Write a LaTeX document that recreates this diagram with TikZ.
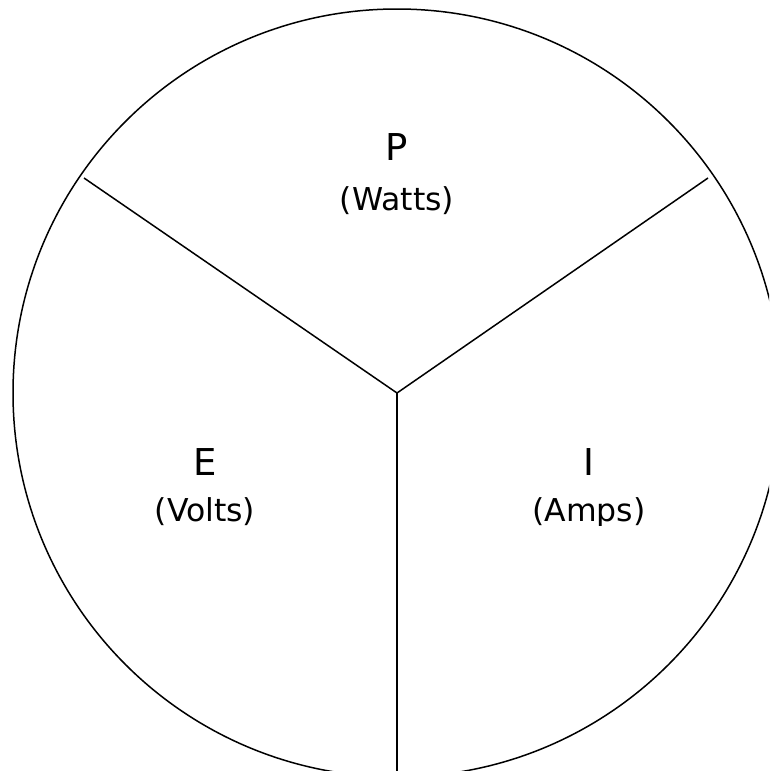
\documentclass[tikz,border=0pt]{standalone}
\usepackage{fontspec}
\setmainfont{DejaVu Sans}
\begin{document}
\begin{tikzpicture}[x=1pt,y=-1pt,
  edge/.style={line width=1.5pt,black},
  bigletter/.style={anchor=base,inner sep=0pt,font=\fontsize{37}{42}\selectfont},
  unitlabel/.style={anchor=base,inner sep=0pt,font=\fontsize{31.5}{36}\selectfont}]
\useasboundingbox (0,0) rectangle (769,771);
\clip (0,0) rectangle (769,771);
\coordinate (c) at (397,393);
\coordinate (l) at (84,178);
\coordinate (r) at (708,178);
\coordinate (b) at (397,771);
\draw[edge] (c) circle[radius=384];
\draw[edge] (l) -- (c) -- (r);
\draw[edge] (c) -- (b);
\node[bigletter] (P) at (397,160) {P};
\node[bigletter] (E) at (205,475) {E};
\node[bigletter] (I) at (589,475) {I};
\begin{scope}
  \clip (300,170) rectangle (500,214);
  \node[unitlabel] (Pu) at (397,210) {(Watts)};
\end{scope}
\begin{scope}
  \clip (100,480) rectangle (300,525);
  \node[unitlabel] (Eu) at (205,521) {(Volts)};
\end{scope}
\begin{scope}
  \clip (480,480) rectangle (700,525);
  \node[unitlabel] (Iu) at (589,521) {(Amps)};
\end{scope}
\end{tikzpicture}
\end{document}
